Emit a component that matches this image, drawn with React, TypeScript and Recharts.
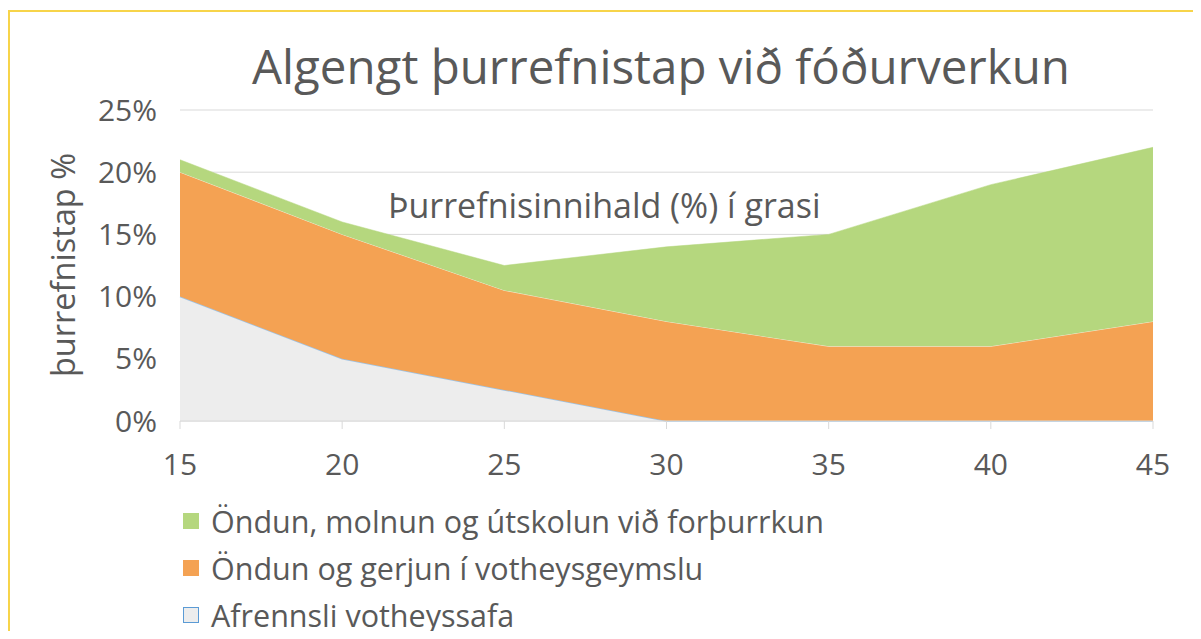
import { Area, AreaChart, CartesianGrid, XAxis, YAxis } from "recharts";

const grasDm = ["15", "20", "25", "30", "35", "40", "45"];
const afrennsli = [10, 5, 2.5, 0, 0, 0, 0];
const gerjun = [10, 10, 8, 8, 6, 6, 8];
const forthurrkun = [1, 1, 2, 6, 9, 13, 14];
const yTicks = [0, 5, 10, 15, 20, 25];

const seriesNames = {
  forthurrkun: "Öndun, molnun og útskolun við forþurrkun",
  gerjun: "Öndun og gerjun í votheysgeymslu",
  afrennsli: "Afrennsli votheyssafa",
};

const GREEN = "#b5d77e";
const ORANGE = "#f4a253";
const GREY = "#ededed";
const TEXT = "#595959";
const FONT = "'Open Sans', Lato, sans-serif";

const data = grasDm.map((x, i) => ({
  x,
  afrennsli: afrennsli[i],
  gerjun: gerjun[i],
  forthurrkun: forthurrkun[i],
}));

const legendItems = [
  { key: "forthurrkun", fill: GREEN, stroke: GREEN },
  { key: "gerjun", fill: ORANGE, stroke: ORANGE },
  { key: "afrennsli", fill: GREY, stroke: "#5b9bd5" },
] as const;

export default function App() {
  return (
    <div
      style={{
        position: "relative",
        width: 1189,
        height: 631,
        marginBottom: -8,
        overflow: "hidden",
        fontFamily: FONT,
      }}
    >
      {/* yellow frame, open at the bottom like the cropped original */}
      <div
        style={{
          position: "absolute",
          left: 0,
          top: 2,
          width: 1189,
          height: 660,
          border: "2px solid #f7d44a",
          boxSizing: "border-box",
        }}
      />
      <div
        style={{
          position: "absolute",
          left: 0,
          width: 1306,
          top: 28,
          textAlign: "center",
          fontSize: 47.5,
          color: TEXT,
          lineHeight: "60px",
          whiteSpace: "nowrap",
        }}
      >
        Algengt þurrefnistap við fóðurverkun
      </div>
      <div
        style={{
          position: "absolute",
          left: 54,
          top: 257,
          transform: "translate(-50%, -50%) rotate(-90deg)",
          fontSize: 32.5,
          color: TEXT,
          whiteSpace: "nowrap",
        }}
      >
        þurrefnistap %
      </div>
      <div style={{ position: "absolute", left: 0, top: 0 }}>
        <AreaChart
          width={1170}
          height={500}
          data={data}
          margin={{ top: 102, right: 25, left: 60, bottom: 27 }}
        >
          <CartesianGrid stroke="#d9d9d9" vertical={false} />
          <XAxis
            dataKey="x"
            stroke="#d9d9d9"
            tickSize={8}
            tickMargin={25}
            height={60}
            tick={{ fill: TEXT, fontSize: 30, fontFamily: FONT }}
          />
          <YAxis
            domain={[0, 25]}
            ticks={yTicks}
            tickFormatter={(v) => `${v}%`}
            axisLine={false}
            tickLine={false}
            tickMargin={17}
            width={112}
            tick={{ fill: TEXT, fontSize: 30, fontFamily: FONT }}
          />
          <Area
            type="linear"
            dataKey="afrennsli"
            stackId="a"
            fill={GREY}
            fillOpacity={1}
            stroke="#9dc3e6"
            strokeWidth={1.5}
            isAnimationActive={false}
          />
          <Area
            type="linear"
            dataKey="gerjun"
            stackId="a"
            fill={ORANGE}
            fillOpacity={1}
            stroke="#ffffff"
            strokeWidth={0.6}
            isAnimationActive={false}
          />
          <Area
            type="linear"
            dataKey="forthurrkun"
            stackId="a"
            fill={GREEN}
            fillOpacity={1}
            stroke={GREEN}
            strokeWidth={0.5}
            isAnimationActive={false}
          />
        </AreaChart>
      </div>
      <div
        style={{
          position: "absolute",
          left: 380,
          top: 175,
          fontSize: 34,
          color: TEXT,
          whiteSpace: "nowrap",
          lineHeight: "44px",
        }}
      >
        Þurrefnisinnihald (%) í grasi
      </div>
      <div style={{ position: "absolute", left: 175, top: 489 }}>
        {legendItems.map((it) => (
          <div
            key={it.key}
            style={{
              display: "flex",
              alignItems: "center",
              height: 47,
              fontSize: 30.5,
              color: TEXT,
              lineHeight: "32px",
            }}
          >
            <span
              style={{
                display: "inline-block",
                width: 14,
                height: 14,
                background: it.fill,
                border: `1.5px solid ${it.stroke}`,
                marginRight: 12,
              }}
            />
            <span style={{ whiteSpace: "nowrap" }}>{seriesNames[it.key]}</span>
          </div>
        ))}
      </div>
    </div>
  );
}
